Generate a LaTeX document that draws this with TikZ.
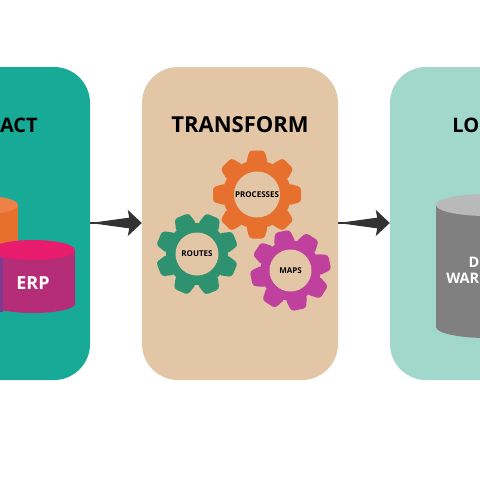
\documentclass[tikz,border=0pt]{standalone}
\usepackage{fontspec}
\setmainfont{Open Sans}
\usepackage{xcolor}
\usetikzlibrary{arrows.meta,shapes.geometric}

\definecolor{extractcol}{HTML}{17AB97}
\definecolor{transformcol}{HTML}{E3C6A6}
\definecolor{loadcol}{HTML}{A2D7CC}
\definecolor{orangecol}{HTML}{E8702F}
\definecolor{orangetop}{HTML}{EE8148}
\definecolor{greencol}{HTML}{2E9270}
\definecolor{magentacol}{HTML}{C0409E}
\definecolor{erpcol}{HTML}{B52D76}
\definecolor{erptop}{HTML}{E81C6C}
\definecolor{purplecol}{HTML}{7E3A92}
\definecolor{arrowcol}{HTML}{333333}

% gear: colour, name, centre, outer radius, hole radius, tilt, text
\newcommand{\gearwheel}[7]{
  \fill[#1] (#3) circle ({#4-10});
  \foreach \ang in {0,45,...,315}
    \fill[#1, rounded corners=3pt, shift={(#3)}, rotate=\ang+#6]
      ({#4-13},-11) -- (#4,-7.5) -- (#4,7.5) -- ({#4-13},11) -- cycle;
  \node[hole, minimum size=2*#5 pt] (#2) at (#3) {#7};
}

\begin{document}
\begin{tikzpicture}[
  x=1pt, y=-1pt,
  panel/.style={rounded corners=36pt, inner sep=0pt, minimum height=313pt},
  hole/.style={circle, fill=transformcol, inner sep=0pt, font=\fontsize{8}{9}\bfseries},
  arr/.style={-{Stealth[length=14pt,width=26pt,inset=2.5pt]}, line width=2pt, arrowcol},
  tail/.style={fill=arrowcol},
  heading/.style={font=\fontsize{22}{24}\bfseries, inner sep=0pt},
  cuthead/.style={font=\fontsize{20}{24}\bfseries, inner sep=0pt},
  cyllabel/.style={text=white, align=center, font=\fontsize{14.5}{16}\bfseries},
]
  \useasboundingbox (0,0) rectangle (480,480);
  \clip (0,0) rectangle (480,480);

  % panels
  \node[panel, fill=extractcol, minimum width=200pt] (extract) at (-10,223.5) {};
  \node[panel, fill=transformcol, minimum width=196pt] (transform) at (240,223.5) {};
  \node[panel, fill=loadcol, minimum width=200pt] (load) at (490,223.5) {};

  % headings
  \node[cuthead, anchor=east] (extracthead) at (38,125) {ACT};
  \node[heading] (transformhead) at (240,125) {TRANSFORM};
  \node[cuthead, anchor=east] (loadhead) at (479.5,125) {LO};

  % extract cylinders
  \fill[orangecol] (-20,205) rectangle (18,255);
  \fill[orangetop] (-15,205) ellipse (33 and 9);
  \fill[erpcol] (-9,250) -- (-9,304) arc[start angle=180,end angle=0,x radius=42,y radius=9]
    -- (75,250) -- cycle;
  \fill[erptop] (33,250) ellipse (42 and 10);
  \fill[purplecol] (-10,258) rectangle (2.5,312);
  \node[cyllabel, font=\fontsize{18}{20}\bfseries] (erp) at (33,283) {ERP};

  % gears
  \gearwheel{orangecol}{processes}{257,194.5}{44}{23}{0}{PROCESSES}
  \gearwheel{greencol}{routes}{197,254}{41}{21.5}{22}{ROUTES}
  \gearwheel{magentacol}{maps}{290.5,270.5}{40}{21}{12}{MAPS}

  % warehouse cylinder
  \fill[gray] (436,205) -- (436,327) arc[start angle=180,end angle=0,x radius=51,y radius=11]
    -- (538,205) -- cycle;
  \fill[gray!55] (487,205) ellipse (51 and 11);
  \node[cyllabel, anchor=east, inner sep=0pt] (dwtop) at (479.5,262) {D};
  \node[cyllabel, anchor=east, inner sep=0pt] (dwbot) at (479.5,278) {WAR};

  % connectors
  \coordinate (a1) at (extract.east |- 0,223);
  \coordinate (a2) at (transform.west |- 0,223);
  \coordinate (b1) at (transform.east |- 0,223);
  \coordinate (b2) at (load.west |- 0,223);
  \fill[tail] (a1) -- ++(40,-5.5) -- ++(0,11) -- cycle;
  \fill[tail] (b1) -- ++(40,-5.5) -- ++(0,11) -- cycle;
  \draw[arr] (a1) -- (a2);
  \draw[arr] (b1) -- (b2);
\end{tikzpicture}
\end{document}
